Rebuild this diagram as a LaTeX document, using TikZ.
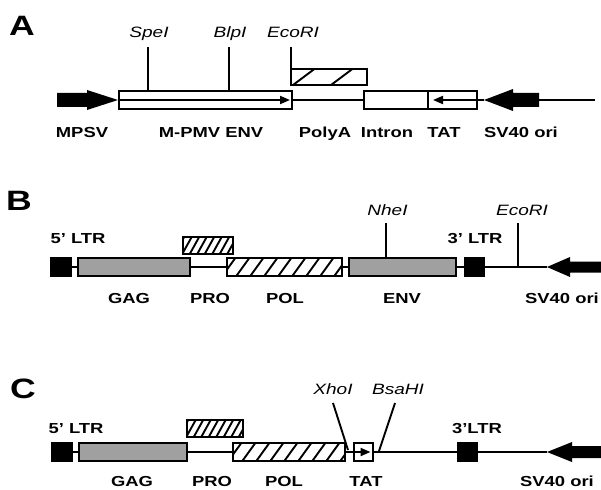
\documentclass[tikz,border=0pt]{standalone}
\usepackage{fontspec}
\setmainfont[FakeStretch=1.27]{Liberation Sans}
\usetikzlibrary{calc,arrows.meta}
\definecolor{boxgrey}{RGB}{160,160,160}
\newcommand\hatchfill[6]{%
  \begin{scope}
    \clip (#1.south west) rectangle (#1.north east);
    \foreach \k in {-2,...,#6}
      \draw[hatchline] ($(#1.south west)+(#3+\k*#2,0)$) -- ++(#4,-#5);
  \end{scope}}
\tikzset{
  box/.style={draw, line width=2pt, inner sep=0pt, outer sep=0pt, minimum height=17.5pt},
  greybox/.style={box, fill=boxgrey},
  ltrbox/.style={box, fill=black, minimum width=19pt},
  hatchline/.style={line width=1.9pt},
  conn/.style={line width=1.9pt},
  lbl/.style={font=\bfseries\fontsize{14.5}{14.5}\selectfont, anchor=base, inner sep=0pt},
  site/.style={font=\itshape\fontsize{15}{15}\selectfont, anchor=base, inner sep=0pt},
  panel/.style={font=\bfseries\fontsize{28}{28}\selectfont, anchor=base, inner sep=0pt},
  intip/.style={-{Triangle[length=10pt,width=8pt]}}
}
\begin{document}
\begin{tikzpicture}[x=1pt,y=-1pt]
\useasboundingbox (0,0) rectangle (601,489);

% ================= Panel A =================
\node[panel] (pA) at (22,36) {A};
% MPSV arrow
\fill (57,93) -- (87,93) -- (87,90) -- (118,100) -- (87,110) -- (87,107) -- (57,107) -- cycle;
\coordinate (mpsvtip) at (118,100);
\node[box, minimum width=173pt] (envA) at (205.5,100) {};
\node[box, minimum width=64pt] (intron) at (396,100) {};
\node[box, minimum width=49pt] (tatA) at (452.5,100) {};
\node[box, minimum width=76pt, minimum height=16pt] (hatchA) at (329,77) {};
\hatchfill{hatchA}{38}{2}{24}{18}{1}
% SV40 arrow A
\fill (484,100) -- (513,89) -- (513,93) -- (539,93) -- (539,107) -- (513,107) -- (513,111) -- cycle;
\coordinate (svA) at (484,100);
\coordinate (svAend) at (539,100);
\coordinate (endA) at (595,100);
\draw[conn, intip] (envA.west) -- ($(envA.east)+(-2,0)$);
\draw[conn, intip] (tatA.east) -- ($(tatA.west)+(5,0)$);
\draw[conn] (envA.east) -- (intron.west);
\draw[conn] (tatA.east) -- (svA);
\draw[conn] (svAend) -- (endA);
% sites
\coordinate (spe) at (148,47);
\coordinate (blp) at (229,47);
\coordinate (ecoA) at (291,47);
\draw[conn] (spe) -- (spe |- envA.north);
\draw[conn] (blp) -- (blp |- envA.north);
\draw[conn] (ecoA) -- (ecoA |- hatchA.north);
\node[site] (speL) at (149,38) {SpeI};
\node[site] (blpL) at (230,38) {BlpI};
\node[site] (ecoAL) at (293,38) {EcoRI};
% labels
\node[lbl] at (82,138) {MPSV};
\node[lbl] at (211,138) {M-PMV ENV};
\node[lbl] at (325,138) {PolyA};
\node[lbl] at (387,138) {Intron};
\node[lbl] at (444,138) {TAT};
\node[lbl] at (521,138) {SV40 ori};

% ================= Panel B =================
\node[panel] (pB) at (19,210) {B};
\node[ltrbox, minimum width=20pt] (ltr5B) at (60.5,267) {};
\node[greybox, minimum width=112pt] (gagB) at (133.5,267) {};
\node[box, minimum width=50pt, minimum height=17pt] (proB) at (207.5,245) {};
\hatchfill{proB}{7.5}{0}{10}{18}{8}
\node[box, minimum width=115pt] (polB) at (284,267) {};
\hatchfill{polB}{14}{-4}{13}{18}{9}
\node[greybox, minimum width=107pt] (envB) at (402,267) {};
\node[ltrbox] (ltr3B) at (474,267) {};
\fill (547,267) -- (570,257) -- (570,261.5) -- (601,261.5) -- (601,272.5) -- (570,272.5) -- (570,277) -- cycle;
\coordinate (svB) at (547,267);
\draw[conn] (ltr5B.east) -- (gagB.west);
\draw[conn] (gagB.east) -- (polB.west);
\draw[conn] (polB.east) -- (envB.west);
\draw[conn] (envB.east) -- (ltr3B.west);
\draw[conn] (ltr3B.east) -- (svB);
\coordinate (nhe) at (386,223);
\coordinate (ecoB) at (518,223);
\draw[conn] (nhe) -- (nhe |- envB.north);
\draw[conn] (ecoB) -- (ecoB |- svB);
\node[site] (nheL) at (387.5,215) {NheI};
\node[site] (ecoBL) at (522,215) {EcoRI};
\node[lbl] at (78,243) {5' LTR};
\node[lbl] at (475,243) {3' LTR};
\node[lbl] at (129,303) {GAG};
\node[lbl] at (210,303) {PRO};
\node[lbl] at (285,303) {POL};
\node[lbl] at (402,303) {ENV};
\node[lbl] at (562,303) {SV40 ori};

% ================= Panel C =================
\node[panel] (pC) at (23,398) {C};
\node[ltrbox, minimum width=20pt] (ltr5C) at (61.5,452) {};
\node[greybox, minimum width=108pt] (gagC) at (132.5,452) {};
\node[box, minimum width=56pt, minimum height=17pt] (proC) at (214.5,428) {};
\hatchfill{proC}{7.5}{0}{10}{18}{9}
\node[box, minimum width=112pt] (polC) at (288.5,452) {};
\hatchfill{polC}{14}{-4}{13}{18}{9}
\node[box, minimum width=19pt] (tatC) at (363,452) {};
\draw[conn, intip] (tatC.west) -- ($(tatC.east)+(-2,0)$);
\node[ltrbox] (ltr3C) at (467.5,452) {};
\fill (547,452) -- (572,442) -- (572,446) -- (601,446) -- (601,458) -- (572,458) -- (572,462) -- cycle;
\coordinate (svC) at (547,452);
\draw[conn] (ltr5C.east) -- (gagC.west);
\draw[conn] (gagC.east) -- (polC.west);
\draw[conn] (polC.east) -- (tatC.west);
\draw[conn] (tatC.east) -- (ltr3C.west);
\draw[conn] (ltr3C.east) -- (svC);
\coordinate (xhoT) at (333,403);
\coordinate (xhoB) at (348,450);
\coordinate (bsaT) at (395,403);
\coordinate (bsaB) at (379,451);
\draw[conn] (xhoT) -- (xhoB);
\draw[conn] (bsaT) -- (bsaB);
\node[site] (xhoL) at (333,394) {XhoI};
\node[site] (bsaL) at (398,394) {BsaHI};
\node[lbl] at (76,433) {5' LTR};
\node[lbl] at (477,433) {3'LTR};
\node[lbl] at (132,486) {GAG};
\node[lbl] at (212,486) {PRO};
\node[lbl] at (284,486) {POL};
\node[lbl] at (366,486) {TAT};
\node[lbl] at (557,486) {SV40 ori};
\end{tikzpicture}
\end{document}
